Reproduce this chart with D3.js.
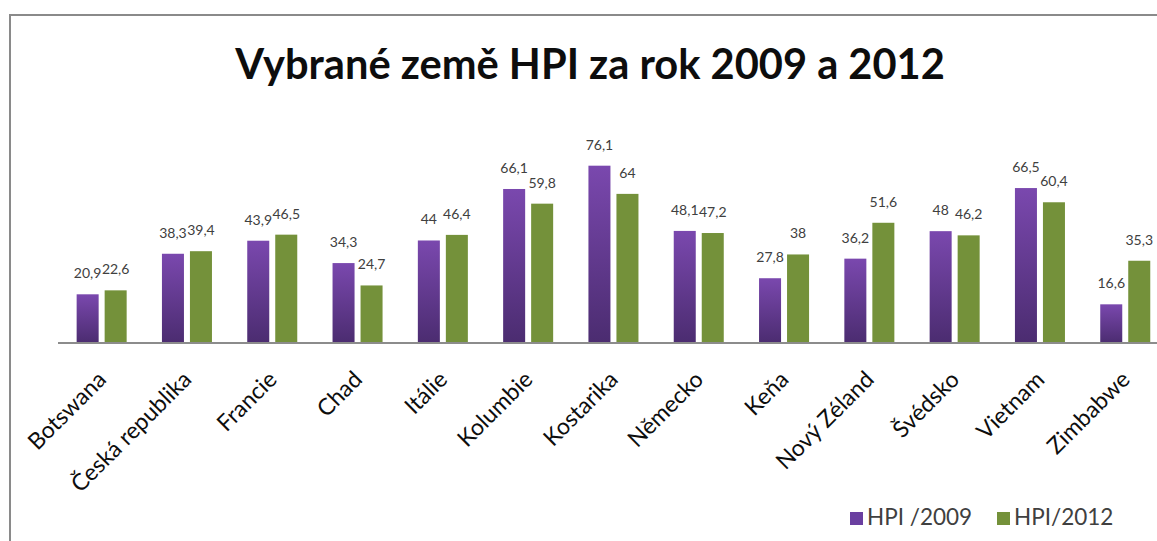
<!DOCTYPE html>
<html lang="cs">
<head>
  <meta charset="UTF-8">
  <title>Vybrané země HPI</title>
  <script src="https://cdn.jsdelivr.net/npm/d3@7/dist/d3.min.js"></script>
  <style>
    * { margin: 0; padding: 0; }
    body { background: #fff; overflow: hidden; }
    svg { display: block; }
    text { font-family: Lato, "Open Sans", sans-serif; }
  </style>
</head>
<body>
  <div id="chart"></div>
  <script>
  // data
  var categories = ["Botswana", "Česká republika", "Francie", "Chad", "Itálie", "Kolumbie",
    "Kostarika", "Německo", "Keňa", "Nový Zéland", "Švédsko", "Vietnam", "Zimbabwe"];
  var hpi2009 = [20.9, 38.3, 43.9, 34.3, 44, 66.1, 76.1, 48.1, 27.8, 36.2, 48, 66.5, 16.6];
  var hpi2012 = [22.6, 39.4, 46.5, 24.7, 46.4, 59.8, 64, 47.2, 38, 51.6, 46.2, 60.4, 35.3];
  var seriesNames = ["HPI /2009", "HPI/2012"];

  var width = 1157, height = 541;
  var baseY = 343;

  var svg = d3.select("#chart").append("svg")
    .attr("width", width)
    .attr("height", height);

  var defs = svg.append("defs");
  var grad = defs.append("linearGradient")
    .attr("id", "purple")
    .attr("x1", 0).attr("y1", 0).attr("x2", 0).attr("y2", 1);
  grad.append("stop").attr("offset", "0%").attr("stop-color", "#7a48ae");
  grad.append("stop").attr("offset", "100%").attr("stop-color", "#4b2c70");

  var colors = ["url(#purple)", "#74913a"];
  var legendColors = ["#6a3fa0", "#74913a"];

  // frame
  svg.append("path")
    .attr("d", "M10," + height + "V15H" + width)
    .attr("fill", "none")
    .attr("stroke", "#8a8a8a")
    .attr("stroke-width", 2);

  // title
  var title = svg.append("text")
    .attr("x", 590)
    .attr("y", 79)
    .attr("text-anchor", "middle")
    .attr("font-weight", "bold")
    .attr("font-size", 40)
    .attr("fill", "#0d0d0d")
    .text("Vybrané země HPI za rok 2009 a 2012");
  var tw = title.node().getComputedTextLength();
  title.attr("font-size", 40 * 710 / tw);

  var x = d3.scaleBand()
    .domain(categories)
    .range([59, 59 + 13 * 85.3]);

  var xInner = d3.scaleBand()
    .domain([0, 1])
    .range([0, x.step()])
    .paddingInner(0.214)
    .paddingOuter(0.63);

  var y = d3.scaleLinear()
    .domain([0, 80])
    .range([baseY, baseY - 80 * 2.33]);

  var table = categories.map(function (c, i) {
    return { name: c, values: [hpi2009[i], hpi2012[i]] };
  });

  var groups = svg.selectAll(".cat")
    .data(table)
    .enter().append("g")
    .attr("class", "cat")
    .attr("transform", function (d) { return "translate(" + x(d.name) + ",0)"; });

  groups.selectAll("rect")
    .data(function (d) { return d.values; })
    .enter().append("rect")
    .attr("x", function (d, i) { return xInner(i); })
    .attr("width", xInner.bandwidth())
    .attr("y", function (d) { return y(d); })
    .attr("height", function (d) { return baseY - y(d); })
    .attr("fill", function (d, i) { return colors[i]; });

  groups.selectAll(".val")
    .data(function (d) { return d.values; })
    .enter().append("text")
    .attr("class", "val")
    .attr("x", function (d, i) { return xInner(i) + xInner.bandwidth() / 2; })
    .attr("y", function (d) { return y(d) - 16; })
    .attr("text-anchor", "middle")
    .attr("font-size", 14)
    .attr("fill", "#404040")
    .text(function (d) { return String(d).replace(".", ","); });

  // axis
  var xAxis = svg.append("g")
    .attr("transform", "translate(0," + baseY + ")")
    .call(d3.axisBottom(x).tickSize(0).tickPadding(0));
  xAxis.select(".domain")
    .attr("d", "M58,0H" + width)
    .attr("stroke", "#8c8c8c")
    .attr("stroke-width", 2);
  xAxis.selectAll(".tick text")
    .attr("font-family", "Lato, 'Open Sans', sans-serif")
    .attr("font-size", 23)
    .attr("fill", "#0d0d0d")
    .attr("text-anchor", "end")
    .attr("dy", 0)
    .attr("transform", "translate(6,38) rotate(-45)");

  // legend
  var legend = svg.append("g").attr("transform", "translate(850,512)");
  var lx = [0, 147];
  seriesNames.forEach(function (s, i) {
    var g = legend.append("g").attr("transform", "translate(" + lx[i] + ",0)");
    g.append("rect")
      .attr("width", 13).attr("height", 13)
      .attr("fill", legendColors[i]);
    g.append("text")
      .attr("x", 17)
      .attr("y", 13)
      .attr("font-size", 22.5)
      .attr("fill", "#404040")
      .text(s);
  });
  </script>
</body>
</html>
